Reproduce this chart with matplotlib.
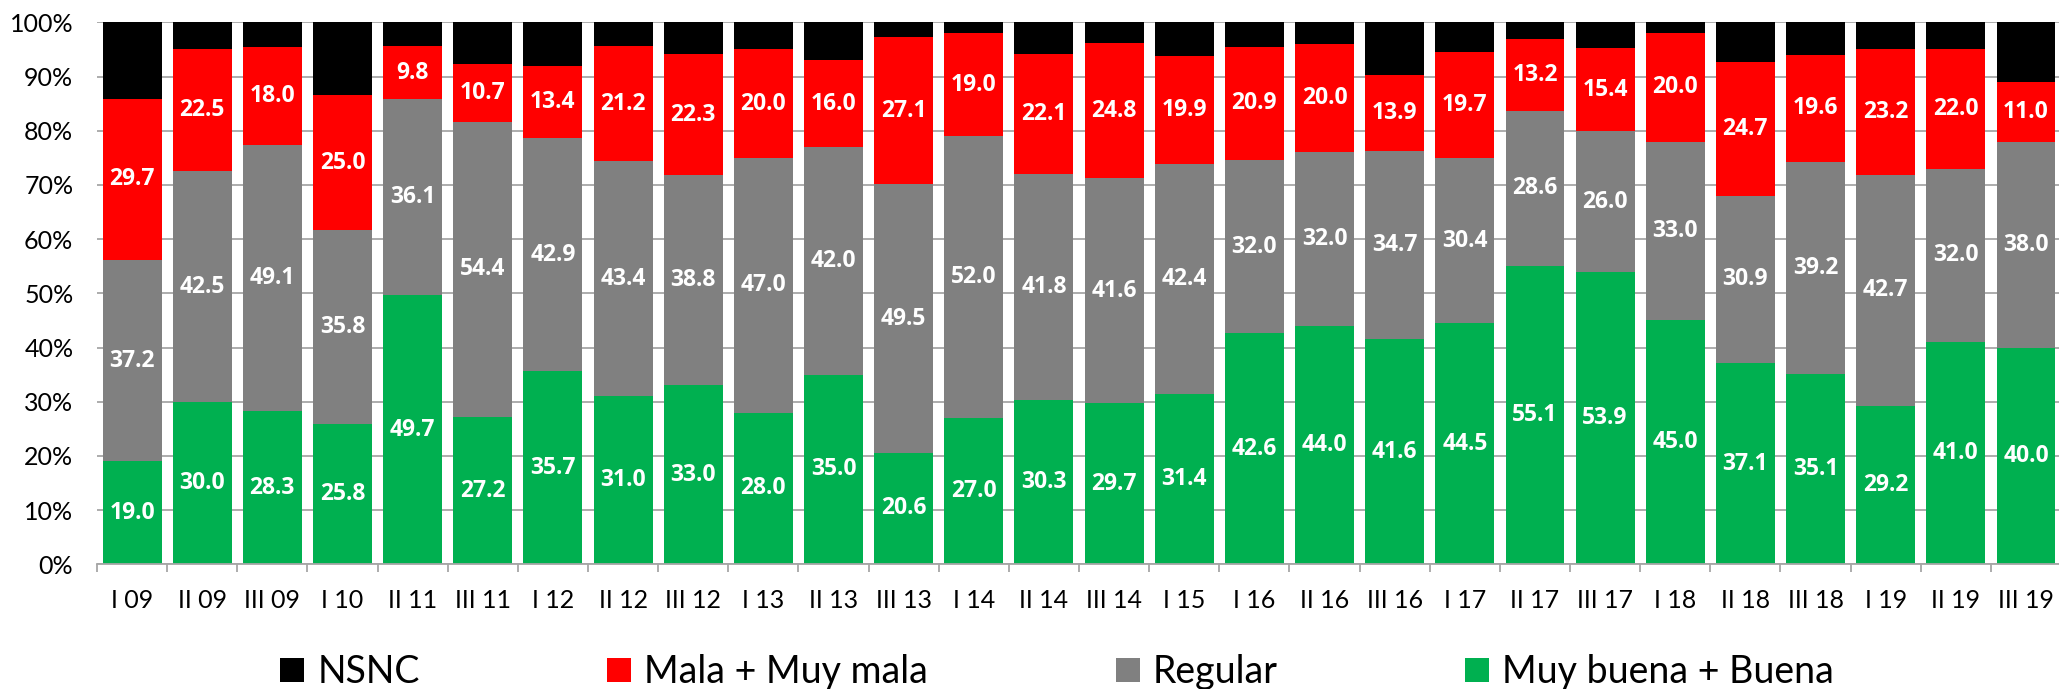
import numpy as np
import matplotlib
matplotlib.use("Agg")
from matplotlib import pyplot as plt
from matplotlib.ticker import FixedLocator, PercentFormatter

plt.rcParams['font.family'] = ['Lato', 'DejaVu Sans']

periods = ['I 09', 'II 09', 'III 09', 'I 10', 'II 11', 'III 11', 'I 12', 'II 12',
           'III 12', 'I 13', 'II 13', 'III 13', 'I 14', 'II 14', 'III 14', 'I 15',
           'I 16', 'II 16', 'III 16', 'I 17', 'II 17', 'III 17', 'I 18', 'II 18',
           'III 18', 'I 19', 'II 19', 'III 19']

buena = [19.0, 30.0, 28.3, 25.8, 49.7, 27.2, 35.7, 31.0, 33.0, 28.0, 35.0, 20.6, 27.0, 30.3,
         29.7, 31.4, 42.6, 44.0, 41.6, 44.5, 55.1, 53.9, 45.0, 37.1, 35.1, 29.2, 41.0, 40.0]
regular = [37.2, 42.5, 49.1, 35.8, 36.1, 54.4, 42.9, 43.4, 38.8, 47.0, 42.0, 49.5, 52.0, 41.8,
           41.6, 42.4, 32.0, 32.0, 34.7, 30.4, 28.6, 26.0, 33.0, 30.9, 39.2, 42.7, 32.0, 38.0]
mala = [29.7, 22.5, 18.0, 25.0, 9.8, 10.7, 13.4, 21.2, 22.3, 20.0, 16.0, 27.1, 19.0, 22.1,
        24.8, 19.9, 20.9, 20.0, 13.9, 19.7, 13.2, 15.4, 20.0, 24.7, 19.6, 23.2, 22.0, 11.0]
nsnc = [14.1, 5.0, 4.6, 13.4, 4.4, 7.7, 8.0, 4.4, 5.9, 5.0, 7.0, 2.8, 2.0, 5.8,
        3.9, 6.3, 4.5, 4.0, 9.8, 5.4, 3.1, 4.7, 2.0, 7.3, 6.1, 4.9, 5.0, 11.0]

fig = plt.figure(figsize=(20.59, 6.89), dpi=100)
ax = fig.add_axes([0.0471, 0.181, 0.9539, 0.7866])

x = np.arange(len(periods))
w = 0.84
series = [
    ('Muy buena + Buena', buena, '#00B050', True),
    ('Regular', regular, '#808080', True),
    ('Mala + Muy mala', mala, '#FF0000', True),
    ('NSNC', nsnc, '#000000', False),
]
bottom = np.zeros(len(periods))
handles = {}
for name, vals, col, lab in series:
    vals = np.array(vals)
    bars = ax.bar(x, vals, w, bottom=bottom, color=col, zorder=2, label=name)
    handles[name] = bars
    if lab:
        for xi, b, v in zip(x, bottom, vals):
            ax.text(xi, b + v / 2, f'{v:.1f}', ha='center', va='center',
                    color='white', fontsize=16.5, fontweight='bold',
                    family=['Open Sans', 'DejaVu Sans'], zorder=3)
    bottom += vals

ax.set_xlim(-0.5, len(periods) - 0.5)
ax.set_ylim(0, 100)
ax.yaxis.set_major_locator(FixedLocator(np.arange(0, 101, 10)))
ax.yaxis.set_major_formatter(PercentFormatter(decimals=0))
ax.grid(axis='y', color='#A6A6A6', lw=1.3, zorder=0)
ax.set_axisbelow(True)

ax.set_xticks(x)
ax.set_xticklabels(periods)
ax.xaxis.set_minor_locator(FixedLocator(np.arange(-0.5, len(periods), 1)))
ax.tick_params(axis='x', which='major', length=0, pad=18, labelsize=18)
ax.tick_params(axis='x', which='minor', length=6, width=1.3, color='#A6A6A6', direction='out')
ax.tick_params(axis='y', length=0, labelsize=18, pad=17)

for s in ['top', 'right', 'left']:
    ax.spines[s].set_visible(False)
ax.spines['bottom'].set_color('#A6A6A6')
ax.spines['bottom'].set_linewidth(1.3)

order = ['NSNC', 'Mala + Muy mala', 'Regular', 'Muy buena + Buena']
fig.legend([handles[n] for n in order], order, loc='center', bbox_to_anchor=(0.5134, 0.024),
           ncol=4, frameon=False, fontsize=27, handlelength=0.64, handleheight=0.62,
           handletextpad=0.35, columnspacing=5.0)

fig.savefig('out.png', dpi=100)
